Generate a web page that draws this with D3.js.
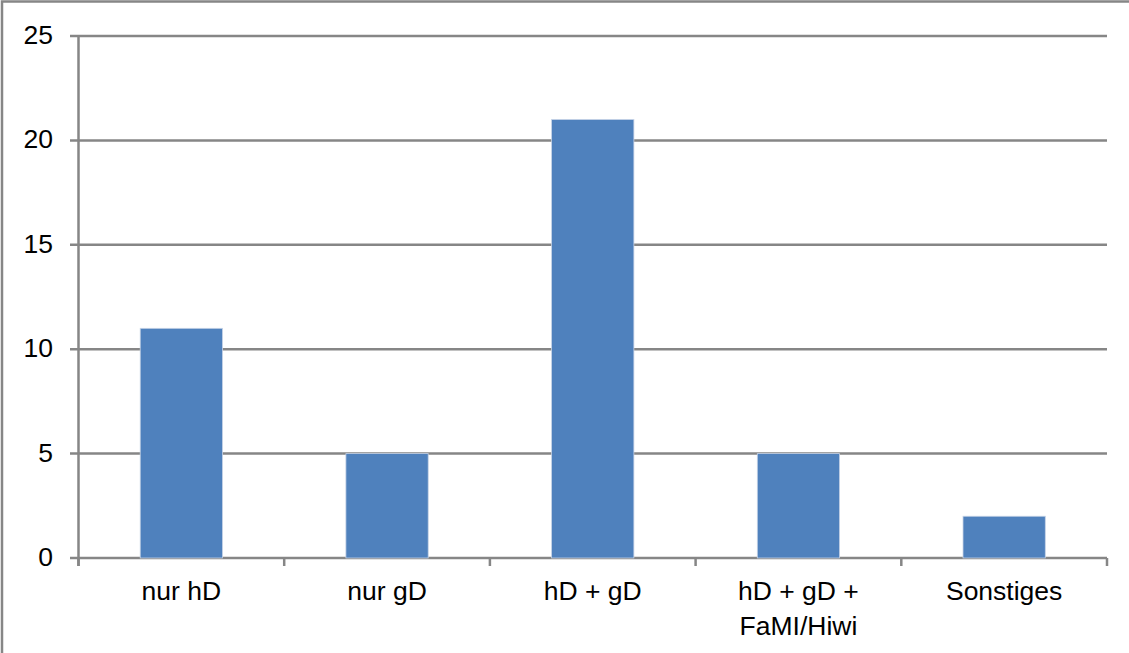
<!DOCTYPE html>
<html><head><meta charset="utf-8">
<script src="https://cdn.jsdelivr.net/npm/d3@7"></script>
<style>body{margin:0;background:#fff}svg{display:block}</style>
</head><body><svg id="c" width="1129" height="653"></svg>
<script>
const categories = [["nur hD"], ["nur gD"], ["hD + gD"], ["hD + gD +", "FaMI/Hiwi"], ["Sonstiges"]];
const values = [11, 5, 21, 5, 2];
const yTicks = [0, 5, 10, 15, 20, 25];

const svg = d3.select("#c");
const font = "'Liberation Sans', Arial, sans-serif";
const grey = "#868686";

// outer frame
svg.append("rect").attr("x", 2).attr("y", 1.5).attr("width", 1200).attr("height", 700)
  .attr("fill", "none").attr("stroke", grey).attr("stroke-width", 2.5);

const x0 = 78.5, x1 = 1107, yTop = 36, yBot = 558;
const x = d3.scaleBand().domain(d3.range(categories.length)).range([x0, x1]).paddingInner(0.6).paddingOuter(0.3);
const xb = d3.scaleBand().domain(d3.range(categories.length)).range([x0, x1]);
const y = d3.scaleLinear().domain([0, 25]).range([yBot, yTop]);

// gridlines
svg.append("g").selectAll("line").data(yTicks).join("line")
  .attr("x1", 70).attr("x2", x1).attr("y1", d => y(d)).attr("y2", d => y(d))
  .attr("stroke", grey).attr("stroke-width", 2.5);

// y axis line
svg.append("line").attr("x1", x0).attr("x2", x0).attr("y1", yTop).attr("y2", yBot + 8)
  .attr("stroke", grey).attr("stroke-width", 2.5);

// x ticks
const tickXs = d3.range(categories.length + 1).map(i => i < categories.length ? xb(i) : x1);
svg.append("g").selectAll("line").data(tickXs).join("line")
  .attr("x1", d => d).attr("x2", d => d).attr("y1", yBot).attr("y2", yBot + 8)
  .attr("stroke", grey).attr("stroke-width", 2.5);

// bars
svg.append("g").selectAll("rect").data(values).join("rect")
  .attr("x", (d, i) => x(i)).attr("width", x.bandwidth())
  .attr("y", d => y(d)).attr("height", d => yBot - y(d))
  .attr("fill", "#4F81BD").attr("stroke", "#c6d3e6").attr("stroke-width", 0.8);

// y labels
svg.append("g").selectAll("text").data(yTicks).join("text")
  .attr("x", 53).attr("y", d => y(d) + 8).attr("text-anchor", "end")
  .attr("font-family", font).attr("font-size", 26.5).attr("fill", "#000").text(d => d);

// x labels
const xl = svg.append("g").selectAll("text").data(categories).join("text")
  .attr("text-anchor", "middle").attr("font-family", font).attr("font-size", 26.5).attr("fill", "#000")
  .attr("x", (d, i) => xb(i) + xb.bandwidth() / 2).attr("y", 600);
xl.selectAll("tspan").data(d => d).join("tspan")
  .attr("x", function () { return this.parentNode.getAttribute("x"); })
  .attr("dy", (d, i) => i === 0 ? 0 : 34.5).text(d => d);
</script></body></html>
